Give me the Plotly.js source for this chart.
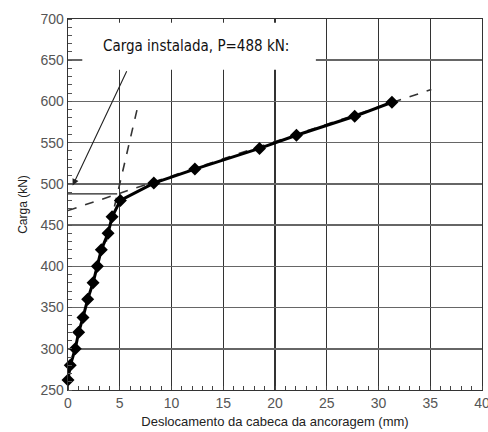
<!DOCTYPE html>
<html><head><meta charset="utf-8">
<script src="https://cdn.plot.ly/plotly-3.0.1.min.js"></script>
<style>body{margin:0;background:#fff}#c{width:488px;height:432px}</style>
</head><body><div id="c"></div>
<script>
// Curva carga x deslocamento (pontos medidos)
const deslocamento = [0, 0.22, 0.7, 1.03, 1.45, 1.9, 2.42, 2.84, 3.22, 3.87, 4.26, 5.06, 8.29, 12.26, 18.5, 22.07, 27.7, 31.3];
const carga        = [262, 280, 300, 320, 338, 360, 380, 400, 420, 440, 460, 480, 501, 518, 543, 559, 582, 599];

// Retas de ajuste (tracejadas)
const retaElasticaX = [3.7, 6.67];
const retaElasticaY = [430, 590];
const retaPlasticaX = [0, 35.1];
const retaPlasticaY = [467.7, 614.5];

// Linha horizontal da carga instalada
const cargaInstX = [0, 4.75];
const cargaInstY = [488, 488];

// Seta indicativa
const setaPonta = {x: 0.45, y: 498};
const setaBase  = {x: 5.74, y: 638.5};

const xTicks = [0, 5, 10, 15, 20, 25, 30, 35, 40];
const yTicks = [250, 300, 350, 400, 450, 500, 550, 600, 650, 700];
const rotulo = 'Carga instalada, P=488 kN:';

const traces = [
  {x: retaElasticaX, y: retaElasticaY, mode: 'lines', line: {color: '#333', width: 1.6, dash: 'dash'}, hoverinfo: 'skip'},
  {x: retaPlasticaX, y: retaPlasticaY, mode: 'lines', line: {color: '#333', width: 1.6, dash: 'dash'}, hoverinfo: 'skip'},
  {x: cargaInstX, y: cargaInstY, mode: 'lines', line: {color: '#222', width: 1.2}, hoverinfo: 'skip'},
  {x: deslocamento, y: carga, mode: 'lines+markers', cliponaxis: false, line: {color: '#000', width: 3},
   marker: {symbol: 'diamond', size: 10, color: '#000'}}
];

const layout = {
  width: 488, height: 432,
  margin: {l: 68, r: 6, t: 19, b: 42},
  showlegend: false,
  paper_bgcolor: '#fff', plot_bgcolor: '#fff',
  font: {family: 'Liberation Sans, Arial, sans-serif', color: '#555', size: 14},
  xaxis: {
    range: [0, 40], tickvals: xTicks, ticktext: xTicks.map(String),
    ticklabeloverflow: 'allow',
    showgrid: true, gridcolor: '#333', gridwidth: 1.3,
    showline: true, linecolor: '#333', linewidth: 1.3, mirror: true,
    zeroline: false, ticks: '',
    minor: {dtick: 1, ticks: 'inside', ticklen: 4, tickcolor: '#444', tickwidth: 1, showgrid: false},
    tickfont: {size: 14, color: '#555'},
    title: {text: 'Deslocamento da cabeca da ancoragem (mm)', font: {size: 13, color: '#222'}, standoff: 6}
  },
  yaxis: {
    range: [250, 700], tickvals: yTicks, ticktext: yTicks.map(String),
    ticklabeloverflow: 'allow',
    showgrid: true, gridcolor: '#666', gridwidth: 1.5,
    showline: true, linecolor: '#333', linewidth: 1.3, mirror: true,
    zeroline: false, ticks: '',
    minor: {dtick: 10, ticks: 'inside', ticklen: 4, tickcolor: '#555', tickwidth: 1, showgrid: false},
    tickfont: {size: 14, color: '#555'},
    title: {text: 'Carga (kN)', font: {size: 12, color: '#222'}, standoff: 10}
  },
  shapes: [
    {type: 'rect', xref: 'x', yref: 'y', x0: 1.38, x1: 23.95, y0: 638.5, y1: 695.5,
     fillcolor: '#fff', line: {width: 0}, layer: 'above'}
  ],
  annotations: [
    {x: setaPonta.x, y: setaPonta.y, ax: setaBase.x, ay: setaBase.y, xref: 'x', yref: 'y', axref: 'x', ayref: 'y',
     text: '', showarrow: true, arrowhead: 2, arrowsize: 1.2, arrowwidth: 1.1, arrowcolor: '#222'},
    {x: 12.35, y: 667, xref: 'x', yref: 'y', text: rotulo, showarrow: false,
     font: {family: 'DejaVu Sans Condensed, sans-serif', size: 15, color: '#111'}}
  ]
};

Plotly.newPlot('c', traces, layout, {staticPlot: true, displayModeBar: false});
</script></body></html>
